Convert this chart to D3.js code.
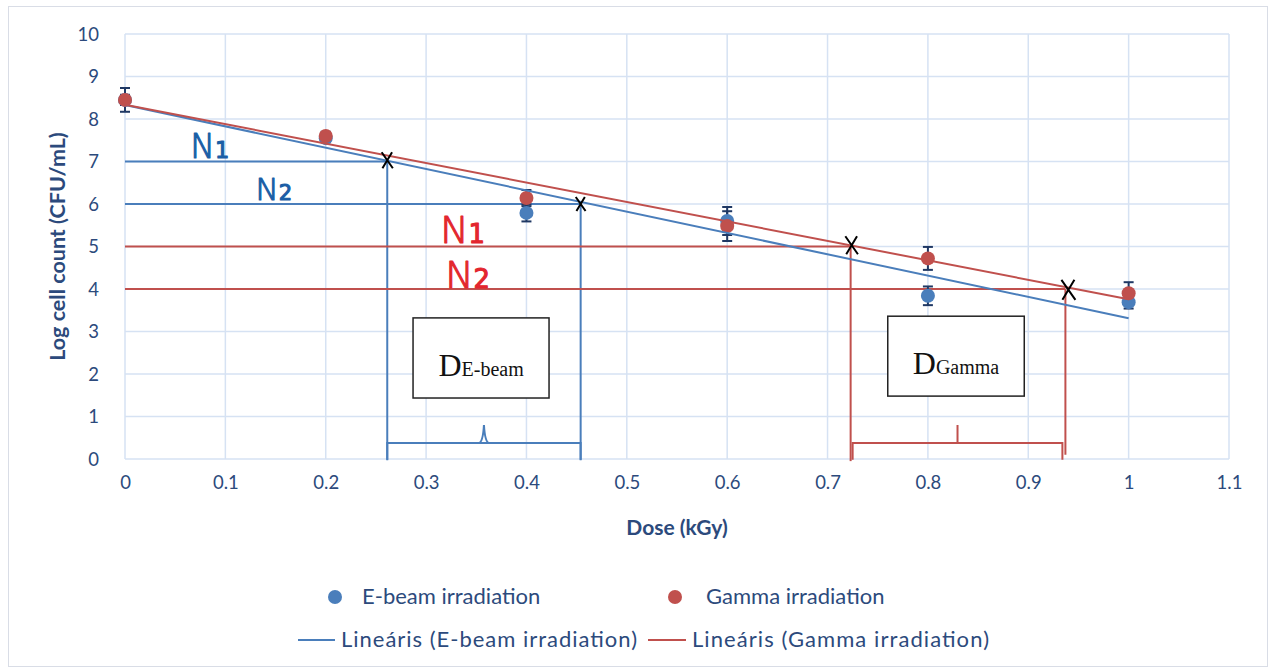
<!DOCTYPE html>
<html>
<head>
<meta charset="utf-8">
<script src="https://cdn.jsdelivr.net/npm/d3@7"></script>
<style>
  html, body { margin: 0; padding: 0; background: #fff; }
  svg { display: block; }
</style>
</head>
<body>
<svg id="chart" width="1274" height="672"></svg>
<script>
// Dose (kGy) and log cell counts for both irradiation types
const doses = [0, 0.2, 0.4, 0.6, 0.8, 1.0];
const ebeamLog = [8.45, 7.55, 5.79, 5.6, 3.84, 3.69];
const ebeamErr = [0.28, 0.1, 0.2, 0.33, 0.22, 0.15];
const gammaLog = [8.45, 7.6, 6.14, 5.48, 4.72, 3.9];
const gammaErr = [0.12, 0.1, 0.19, 0.35, 0.27, 0.26];
const xTicks = [0, 0.1, 0.2, 0.3, 0.4, 0.5, 0.6, 0.7, 0.8, 0.9, 1, 1.1];
const yTicks = [0, 1, 2, 3, 4, 5, 6, 7, 8, 9, 10];

// D-value construction: target log levels and the doses where the fits reach them
const ebeamLevels = [7, 6];
const ebeamCross = [0.2613, 0.454];
const gammaLevels = [5, 4];
const gammaCross = [0.723, 0.937];
const gammaBrace = [0.725, 0.934];

const W = 1274, H = 672;
const margin = { left: 125, right: 45, top: 34, bottom: 213 };
const svg = d3.select("#chart");

const x = d3.scaleLinear().domain([0, 1.1]).range([margin.left, W - margin.right]);
const y = d3.scaleLinear().domain([0, 10]).range([H - margin.bottom, margin.top]);

const BLUE = "#4a7ebb", RED = "#c0504d", NAVY = "#1f3864", TXT = "#2c4a7c";
const GRID = "#d6e2f3";
const FONT = "Lato, 'Open Sans', sans-serif";

// chart frame
svg.append("rect").attr("x", 8.5).attr("y", 6.5).attr("width", 1259).attr("height", 660)
  .attr("fill", "#fff").attr("stroke", "#d9dde6").attr("stroke-width", 1);

// grid lines
svg.append("g").selectAll("line").data(xTicks).join("line")
  .attr("x1", d => x(d)).attr("x2", d => x(d)).attr("y1", y(0)).attr("y2", y(10))
  .attr("stroke", GRID).attr("stroke-width", 1.5);
svg.append("g").selectAll("line").data(yTicks).join("line")
  .attr("x1", x(0)).attr("x2", x(1.1)).attr("y1", d => y(d)).attr("y2", d => y(d))
  .attr("stroke", GRID).attr("stroke-width", 1.5);

// axes (labels only; the lines come from the grid)
const xAxis = svg.append("g").attr("transform", `translate(0,${y(0) + 14})`)
  .call(d3.axisBottom(x).tickValues(xTicks).tickSize(0).tickFormat(d3.format("~g")));
xAxis.select(".domain").remove();
xAxis.selectAll("text").attr("font-family", FONT).attr("font-size", 18.5).attr("fill", TXT);

const yAxis = svg.append("g").attr("transform", `translate(${x(0) - 23},0)`)
  .call(d3.axisLeft(y).tickValues(yTicks).tickSize(0).tickFormat(d3.format("d")));
yAxis.select(".domain").remove();
yAxis.selectAll("text").attr("font-family", FONT).attr("font-size", 18.5).attr("fill", TXT)
  .attr("dy", "0.35em");

svg.append("text").attr("x", (x(0) + x(1.1)) / 2).attr("y", 535)
  .attr("text-anchor", "middle").attr("font-family", FONT).attr("font-weight", "bold")
  .attr("font-size", 21).attr("fill", TXT).text("Dose (kGy)");
svg.append("text").attr("transform", `translate(65,${(y(0) + y(10)) / 2}) rotate(-90)`)
  .attr("text-anchor", "middle").attr("font-family", FONT).attr("font-weight", "bold")
  .attr("font-size", 21.5).attr("fill", TXT).text("Log cell count (CFU/mL)");

// least-squares fit of each series
function linfit(xs, ys) {
  const n = xs.length, mx = d3.mean(xs), my = d3.mean(ys);
  let sxy = 0, sxx = 0;
  for (let i = 0; i < n; i++) { sxy += (xs[i] - mx) * (ys[i] - my); sxx += (xs[i] - mx) ** 2; }
  const b = sxy / sxx;
  return { a: my - b * mx, b };
}
const fitE = linfit(doses, ebeamLog);
const fitG = linfit(doses, gammaLog);

// D-value guide lines
const guides = svg.append("g").attr("fill", "none");
ebeamLevels.forEach((lv, i) => {
  guides.append("line").attr("x1", x(0)).attr("x2", x(ebeamCross[i]))
    .attr("y1", y(lv)).attr("y2", y(lv)).attr("stroke", BLUE).attr("stroke-width", 2);
  guides.append("line").attr("x1", x(ebeamCross[i])).attr("x2", x(ebeamCross[i]))
    .attr("y1", y(lv)).attr("y2", y(-0.03)).attr("stroke", BLUE).attr("stroke-width", 2);
});
gammaLevels.forEach((lv, i) => {
  guides.append("line").attr("x1", x(0)).attr("x2", x(gammaCross[i]))
    .attr("y1", y(lv)).attr("y2", y(lv)).attr("stroke", RED).attr("stroke-width", 2);
  guides.append("line").attr("x1", x(gammaCross[i])).attr("x2", x(gammaCross[i]))
    .attr("y1", y(lv)).attr("y2", y(i === 0 ? -0.05 : 0.1)).attr("stroke", RED).attr("stroke-width", 2);
});

// curly braces under each dose interval
function brace(x0, x1, color, curly) {
  const yb = y(0.376), yt = y(0.8), ye = y(-0.02), xm = (x(x0) + x(x1)) / 2;
  const p = d3.path();
  p.moveTo(x(x0), ye); p.lineTo(x(x0), yb); p.lineTo(x(x1), yb); p.lineTo(x(x1), ye);
  if (curly) {
    p.moveTo(xm - 5, yb); p.quadraticCurveTo(xm - 1, yb - 1, xm, yt);
    p.moveTo(xm + 5, yb); p.quadraticCurveTo(xm + 1, yb - 1, xm, yt);
  } else {
    p.moveTo(xm, yb); p.lineTo(xm, yt);
  }
  guides.append("path").attr("d", p.toString()).attr("stroke", color).attr("stroke-width", 2);
}
brace(ebeamCross[0], ebeamCross[1], BLUE, true);
brace(gammaBrace[0], gammaBrace[1], RED, false);

// labelled boxes
function dBox(x0, x1, y0, y1, sub) {
  const g = svg.append("g");
  g.append("rect").attr("x", x(x0)).attr("y", y(y0)).attr("width", x(x1) - x(x0))
    .attr("height", y(y1) - y(y0)).attr("fill", "#fff").attr("stroke", "#222").attr("stroke-width", 1.5);
  const t = g.append("text").attr("x", (x(x0) + x(x1)) / 2).attr("y", y(y1) - 22)
    .attr("text-anchor", "middle").attr("font-family", "'Liberation Serif', serif").attr("fill", "#111");
  t.append("tspan").attr("font-size", 32).text("D");
  t.append("tspan").attr("font-size", 20).text(sub);
}
dBox(0.287, 0.4225, 3.32, 1.435, "E-beam");
dBox(0.760, 0.896, 3.36, 1.48, "Gamma");

// error bars
function errBars(vals, errs, color) {
  const g = svg.append("g").attr("stroke", color).attr("stroke-width", 2);
  doses.forEach((d, i) => {
    const cx = x(d), lo = y(vals[i] - errs[i]), hi = y(vals[i] + errs[i]);
    g.append("line").attr("x1", cx).attr("x2", cx).attr("y1", lo).attr("y2", hi);
    g.append("line").attr("x1", cx - 5).attr("x2", cx + 5).attr("y1", lo).attr("y2", lo);
    g.append("line").attr("x1", cx - 5).attr("x2", cx + 5).attr("y1", hi).attr("y2", hi);
  });
}
errBars(ebeamLog, ebeamErr, NAVY);
errBars(gammaLog, gammaErr, NAVY);

// markers
svg.append("g").selectAll("circle").data(doses).join("circle")
  .attr("cx", d => x(d)).attr("cy", (d, i) => y(ebeamLog[i])).attr("r", 7).attr("fill", BLUE);
svg.append("g").selectAll("circle").data(doses).join("circle")
  .attr("cx", d => x(d)).attr("cy", (d, i) => y(gammaLog[i])).attr("r", 7).attr("fill", RED);

// linear trend lines
const fitLine = d3.line().x(d => x(d[0])).y(d => y(d[1]));
svg.append("path").attr("d", fitLine([[0, fitE.a], [1, fitE.a + fitE.b]]))
  .attr("stroke", BLUE).attr("stroke-width", 2).attr("fill", "none");
svg.append("path").attr("d", fitLine([[0, fitG.a], [1, fitG.a + fitG.b]]))
  .attr("stroke", RED).attr("stroke-width", 2).attr("fill", "none");

// crossing marks
const crossPts = [[ebeamCross[0], 7.03, 8], [ebeamCross[1], 6.0, 7], [0.724, 5.03, 9], [0.94, 3.98, 10]];
svg.append("g").selectAll("path").data(crossPts).join("path")
  .attr("d", d => {
    const cx = x(d[0]), cy = y(d[1]), s = d[2];
    return `M${cx - s * 0.7},${cy - s}L${cx + s * 0.7},${cy + s}M${cx + s * 0.6},${cy - s}L${cx - s * 0.6},${cy + s}`;
  })
  .attr("stroke", "#000").attr("stroke-width", 2).attr("fill", "none");

// handwritten level labels
function nLabel(px, py, sub, color, size) {
  const t = svg.append("text").attr("x", x(px)).attr("y", y(py))
    .attr("font-family", "'DejaVu Sans', sans-serif").attr("fill", color)
    .attr("stroke", color).attr("stroke-width", 1.1).attr("stroke-linejoin", "round");
  t.append("tspan").attr("font-size", size).attr("font-weight", "300").text("N");
  t.append("tspan").attr("font-size", size * 0.68).attr("dx", 0).text(sub);
}
nLabel(0.065, 7.08, "1", "#1b5ea6", 33);
nLabel(0.13, 6.09, "2", "#1b5ea6", 31);
nLabel(0.314, 5.08, "1", "#e3262e", 38);
nLabel(0.319, 4.02, "2", "#e3262e", 38);

// legend
const leg = svg.append("g").attr("font-family", FONT).attr("font-size", 22).attr("fill", TXT);
leg.append("circle").attr("cx", 335).attr("cy", 597).attr("r", 7).attr("fill", BLUE);
leg.append("text").attr("x", 362).attr("y", 604).text("E-beam irradiation");
leg.append("circle").attr("cx", 675).attr("cy", 597).attr("r", 7).attr("fill", RED);
leg.append("text").attr("x", 706).attr("y", 604).text("Gamma irradiation");
leg.append("line").attr("x1", 298).attr("x2", 335).attr("y1", 640).attr("y2", 640)
  .attr("stroke", BLUE).attr("stroke-width", 2);
leg.append("text").attr("x", 341).attr("y", 647).attr("textLength", 296)
  .attr("lengthAdjust", "spacing").text("Lineáris (E-beam irradiation)");
leg.append("line").attr("x1", 648).attr("x2", 686).attr("y1", 640).attr("y2", 640)
  .attr("stroke", RED).attr("stroke-width", 2);
leg.append("text").attr("x", 692).attr("y", 647).attr("textLength", 297)
  .attr("lengthAdjust", "spacing").text("Lineáris (Gamma irradiation)");
</script>
</body>
</html>
